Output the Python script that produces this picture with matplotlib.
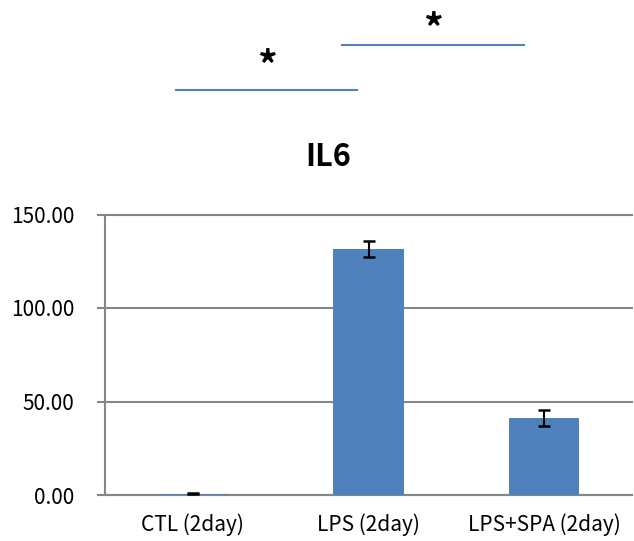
import matplotlib
matplotlib.use("Agg")
from matplotlib import pyplot as plt
import numpy as np

plt.rcParams['font.family'] = ['Noto Sans CJK KR', 'DejaVu Sans']

# dati
categorie = ["CTL (2day)", "LPS (2day)", "LPS+SPA (2day)"]
valori = [0.7, 131.5, 41.2]
errori = [0.3, 4.4, 4.1]
yticks = [0, 50, 100, 150]
titolo = "IL6"

blu = '#4F81BD'
grigio = '#868686'

fig = plt.figure(figsize=(6.34, 5.41), dpi=100)
ax = fig.add_axes([105/634, 1-495/541, 527/634, (495-214.5)/541])

x = np.arange(len(categorie))
ax.bar(x, valori, width=0.4, color=blu, zorder=3)
ax.errorbar(x, valori, yerr=errori, fmt='none', ecolor='black',
            elinewidth=1.5, capsize=4.6, capthick=1.8, zorder=4)

ax.set_xlim(-0.5, len(categorie)-0.5)
ax.set_ylim(0, 150)
ax.set_yticks(yticks)
ax.set_yticklabels(["%.2f" % v for v in yticks], fontsize=15)
ax.set_xticks(x)
ax.set_xticklabels(categorie, fontsize=15)
ax.grid(axis='y', color=grigio, linewidth=1.5, zorder=0)
for g in ax.get_ygridlines():
    g.set_clip_on(False)
ax.set_axisbelow(True)

for s in ['top', 'right']:
    ax.spines[s].set_visible(False)
for s in ['left', 'bottom']:
    ax.spines[s].set_color(grigio)
    ax.spines[s].set_linewidth(1.5)
ax.tick_params(axis='y', direction='out', length=5.8, width=1.5, color=grigio, pad=16)
ax.tick_params(axis='x', length=0, pad=13)

fig.text(328/634, 1-157/541, titolo, fontsize=22, fontweight='bold',
         ha='center', va='center')

# linee di significativita
fig.add_artist(plt.Line2D([176/634, 357/634], [1-90/541, 1-90/541],
                          color=blu, linewidth=1.5))
fig.add_artist(plt.Line2D([342/634, 524/634], [1-45/541, 1-45/541],
                          color=blu, linewidth=1.5))
fig.text(267/634, 1-67/541, "*", fontsize=28, fontweight='bold', ha='center', va='center')
fig.text(433/634, 1-30/541, "*", fontsize=28, fontweight='bold', ha='center', va='center')

fig.savefig("out.png", dpi=100)
